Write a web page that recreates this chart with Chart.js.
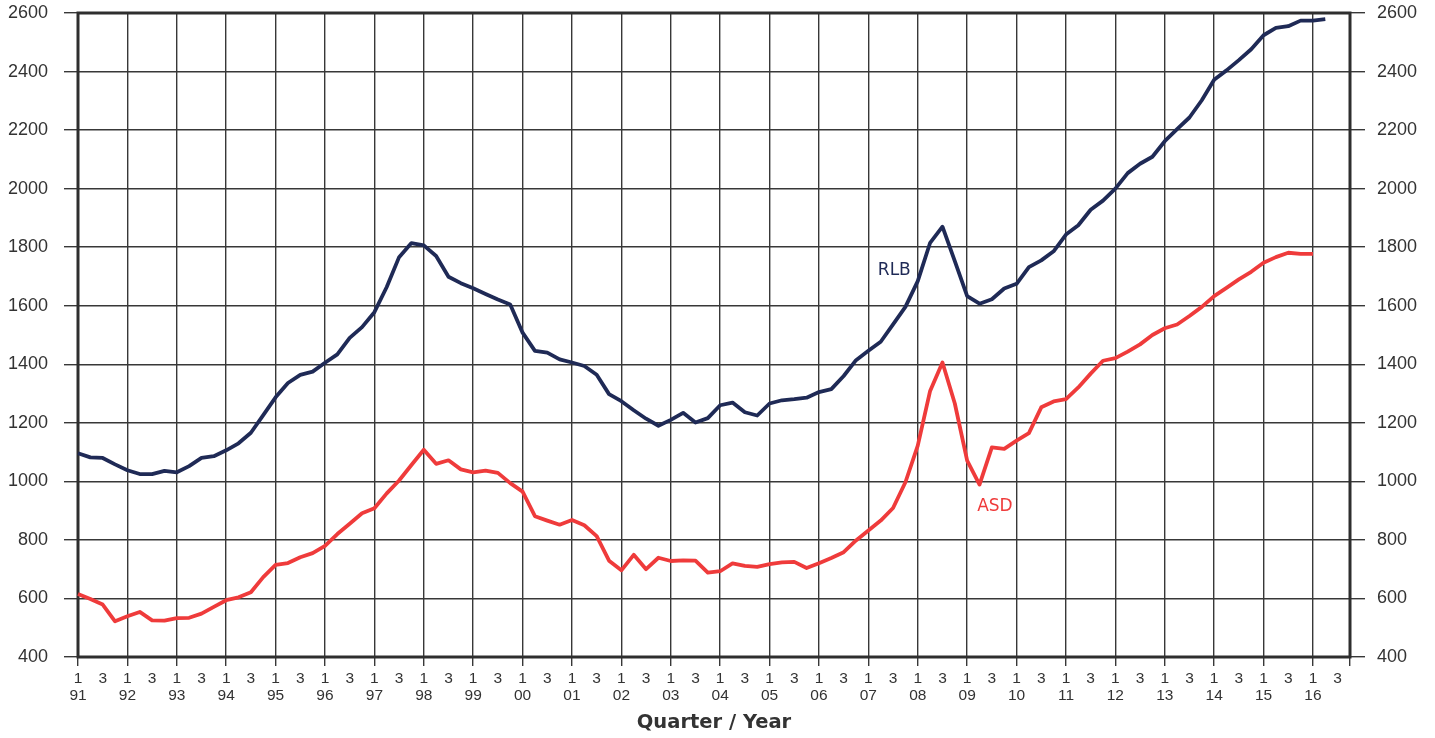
<!DOCTYPE html>
<html>
<head>
<meta charset="utf-8">
<script src="https://cdn.jsdelivr.net/npm/chart.js@4.4.1/dist/chart.umd.min.js"></script>
<style>
  html, body { margin: 0; padding: 0; background: #fff; }
  #wrap { width: 1435px; height: 738px; position: relative; }
</style>
</head>
<body>
<div id="wrap"><canvas id="myChart"></canvas></div>
<script>
// years on the x axis, each split in 4 quarters (91 Q1 .. 16 Q4)
const years = ["91", "92", "93", "94", "95", "96", "97", "98", "99", "00", "01", "02", "03",
  "04", "05", "06", "07", "08", "09", "10", "11", "12", "13", "14", "15", "16"];
const quarters = [1, 2, 3, 4];

// RLB index, 91 Q1 .. 16 Q2
const rlb = [
  1096, 1082, 1080, 1058,
  1038, 1025, 1025, 1036,
  1031, 1052, 1080, 1086,
  1106, 1130, 1166, 1226,
  1287, 1336, 1364, 1375,
  1405, 1434, 1490, 1527,
  1578, 1664, 1766, 1814,
  1806, 1770, 1699, 1677,
  1660, 1640, 1621, 1604,
  1508, 1446, 1440, 1417,
  1406, 1394, 1364, 1298,
  1274, 1243, 1214, 1190,
  1210, 1234, 1201, 1216,
  1260, 1269, 1236, 1225,
  1266, 1277, 1281, 1286,
  1305, 1315, 1360, 1414,
  1446, 1477, 1536, 1596,
  1684, 1815, 1870, 1752,
  1633, 1607, 1622, 1659,
  1675, 1732, 1755, 1786,
  1843, 1875, 1928, 1959,
  2000, 2053, 2085, 2109,
  2162, 2203, 2243, 2302,
  2372, 2404, 2439, 2476,
  2524, 2549, 2555, 2574,
  2574, 2579
];

// ASD index, 91 Q1 .. 16 Q1
const asd = [
  615, 598, 579, 522,
  539, 554, 525, 524,
  533, 534, 548, 571,
  594, 604, 621, 673,
  715, 721, 741, 755,
  780, 820, 855, 891,
  908, 959, 1003, 1056,
  1108, 1060, 1072, 1041,
  1031, 1037, 1029, 994,
  965, 881, 866, 852,
  868, 850, 813, 729,
  696, 749, 700, 739,
  728, 730, 729, 688,
  693, 720, 711, 708,
  717, 723, 725, 704,
  720, 738, 758, 798,
  832, 866, 909, 997,
  1122, 1309, 1406, 1266,
  1071, 989, 1116, 1111,
  1139, 1165, 1253, 1273,
  1281, 1321, 1368, 1412,
  1421, 1443, 1468, 1500,
  1523, 1536, 1565, 1596,
  1633, 1661, 1690, 1716,
  1747, 1766, 1781, 1777,
  1777
];

const yTicks = [400, 600, 800, 1000, 1200, 1400, 1600, 1800, 2000, 2200, 2400, 2600];

const categories = [];
years.forEach(y => quarters.forEach(q => categories.push(q + "/" + y)));
const lastIdx = categories.length - 1;

const gridCol = "#383838";
const textCol = "#333333";

// series name labels written next to the lines
const seriesNotes = [
  { text: "RLB", at: 66.1, value: 1719, color: "#1f2a56" },
  { text: "ASD", at: 74.25, value: 915, color: "#ef3b3b" }
];

const framePlugin = {
  id: "frame",
  beforeDatasetsDraw(chart) {
    const { ctx, chartArea: a } = chart;
    ctx.save();
    ctx.strokeStyle = "#2e2e2e";
    ctx.lineWidth = 3;
    ctx.strokeRect(a.left, a.top, a.right - a.left, a.bottom - a.top);
    ctx.restore();
  },
  afterDatasetsDraw(chart) {
    const { ctx, scales } = chart;
    ctx.save();
    ctx.font = "17px 'DejaVu Sans'";
    ctx.textAlign = "center";
    ctx.textBaseline = "middle";
    seriesNotes.forEach(n => {
      ctx.fillStyle = n.color;
      ctx.fillText(n.text, scales.x.getPixelForValue(n.at), scales.y.getPixelForValue(n.value));
    });
    ctx.restore();
  }
};

const isMajor = (i) => i % 4 === 0 || i === lastIdx;
const noPad = (s) => { s.paddingTop = 0; s.paddingBottom = 0; };

new Chart(document.getElementById("myChart").getContext("2d"), {
  type: "line",
  data: {
    labels: categories,
    datasets: [
      { label: "RLB", data: rlb, borderColor: "#1f2a56", borderWidth: 3.8, pointRadius: 0, tension: 0, borderJoinStyle: "round", yAxisID: "y" },
      { label: "ASD", data: asd, borderColor: "#ef3b3b", borderWidth: 3.8, pointRadius: 0, tension: 0, borderJoinStyle: "round", yAxisID: "y" }
    ]
  },
  options: {
    responsive: true,
    maintainAspectRatio: false,
    animation: false,
    layout: { padding: { top: 13, left: 0, right: 0, bottom: 0 } },
    plugins: { legend: { display: false }, tooltip: { enabled: false } },
    scales: {
      x: {
        offset: false,
        border: { display: false },
        grid: {
          color: (c) => isMajor(c.index) ? gridCol : "rgba(0,0,0,0)",
          lineWidth: 1.4,
          tickLength: 9
        },
        ticks: {
          autoSkip: false,
          maxRotation: 0,
          padding: 4,
          color: textCol,
          font: { family: "'Liberation Sans'", size: 15.5, lineHeight: "17px" },
          callback: (v, i) => {
            if (i === lastIdx) return ["", ""];
            if (i % 4 === 0) return ["1", years[i / 4]];
            if (i % 4 === 2) return ["3", ""];
            return ["", ""];
          }
        },
        title: {
          display: true,
          text: "Quarter / Year",
          color: textCol,
          font: { family: "'DejaVu Sans'", size: 19.5, weight: "bold" },
          padding: { top: 0, bottom: 3 }
        },
        afterFit: (s) => { s.height = 81; }
      },
      y: {
        position: "left",
        min: 400, max: 2600,
        border: { display: false },
        grid: { color: gridCol, lineWidth: 1.4, tickLength: 14 },
        ticks: {
          stepSize: 200, padding: 16, color: textCol,
          font: { family: "'Liberation Sans'", size: 18 },
          callback: (v) => String(v)
        },
        afterBuildTicks: (s) => { s.ticks = yTicks.map(v => ({ value: v })); },
        afterFit: (s) => { s.width = 78; noPad(s); }
      },
      y2: {
        position: "right",
        min: 400, max: 2600,
        border: { display: false },
        grid: { drawOnChartArea: false, color: gridCol, lineWidth: 1.4, tickLength: 15 },
        ticks: {
          stepSize: 200, padding: 12, color: textCol,
          font: { family: "'Liberation Sans'", size: 18 },
          callback: (v) => String(v)
        },
        afterBuildTicks: (s) => { s.ticks = yTicks.map(v => ({ value: v })); },
        afterFit: (s) => { s.width = 85; noPad(s); }
      }
    }
  },
  plugins: [framePlugin]
});
</script>
</body>
</html>
